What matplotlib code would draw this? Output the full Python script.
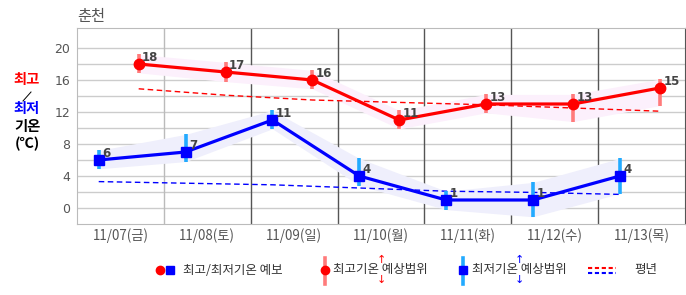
import numpy as np
import matplotlib.pyplot as plt
from matplotlib.lines import Line2D

plt.rcParams['font.family'] = ['Noto Sans CJK KR', 'DejaVu Sans']

# data
days = ['11/07(금)', '11/08(토)', '11/09(일)', '11/10(월)', '11/11(화)', '11/12(수)', '11/13(목)']
tmax = [18, 17, 16, 11, 13, 13, 15]
tmin = [6, 7, 11, 4, 1, 1, 4]
tmax_hi = [19.2, 18.2, 17.2, 12.2, 14.2, 14.2, 16.1]
tmax_lo = [16.9, 15.8, 14.9, 9.9, 11.9, 10.8, 12.8]
tmin_hi = [7.2, 9.2, 12.2, 6.2, 2.1, 3.2, 6.2]
tmin_lo = [4.9, 5.8, 9.9, 2.8, -0.2, -1.1, 1.8]
norm_max = [14.9, 14.1, 13.5, 13.2, 12.9, 12.5, 12.1]
norm_min = [3.3, 3.1, 2.9, 2.5, 2.1, 1.95, 1.7]

RED = '#ff0000'
BLUE = '#0000ff'
RED_RNG = '#ff7b7b'
BLUE_RNG = '#22aaff'

fig = plt.figure(figsize=(6.86, 2.95), dpi=100)
ax = fig.add_axes([77/686, 71/295, 608/686, 196/295])

n = len(days)
xi = np.arange(n)
xmin_pos = xi + 0.25   # morning lows
xmax_pos = xi + 0.71   # afternoon highs

ax.set_xlim(0, n)
ax.set_ylim(-2, 22.5)

# grid
for y in np.arange(0, 21, 2):
    ax.axhline(y, color='#cccccc', lw=1.0, zorder=0)
ax.axvline(1, color='#bbbbbb', lw=1.0, zorder=0)
for x in range(2, n):
    ax.axvline(x, color='#555555', lw=1.0, zorder=0)

for s in ['left', 'bottom', 'top']:
    ax.spines[s].set_color('#bbbbbb')
ax.spines['right'].set_color('#555555')

# bands
ax.fill_between(xmax_pos, tmax_lo, tmax_hi, color='#fcf0fc', lw=0, zorder=1)
ax.fill_between(xmin_pos, tmin_lo, tmin_hi, color='#efeffc', lw=0, zorder=1)

# normals
ax.plot(xmax_pos, norm_max, color=RED, lw=1.0, ls=(0, (4, 2.5)), zorder=2)
ax.plot(xmin_pos, norm_min, color=BLUE, lw=1.0, ls=(0, (4, 2.5)), zorder=2)

# range bars
ax.vlines(xmax_pos, tmax_lo, tmax_hi, color=RED_RNG, lw=2.6, zorder=3)
ax.vlines(xmin_pos, tmin_lo, tmin_hi, color=BLUE_RNG, lw=2.6, zorder=3)

# forecast lines
ax.plot(xmax_pos, tmax, color=RED, lw=2.3, marker='o', ms=7.5, zorder=4)
ax.plot(xmin_pos, tmin, color=BLUE, lw=2.3, marker='s', ms=7, zorder=4)

for x, v in zip(xmax_pos, tmax):
    ax.annotate(str(v), (x, v), xytext=(2.5, 5), textcoords='offset points',
                ha='left', va='center', fontsize=8.5, fontweight='bold',
                color='#444444', family='DejaVu Sans', zorder=5)
for x, v in zip(xmin_pos, tmin):
    ax.annotate(str(v), (x, v), xytext=(2.5, 5), textcoords='offset points',
                ha='left', va='center', fontsize=8.5, fontweight='bold',
                color='#444444', family='DejaVu Sans', zorder=5)

ax.set_xticks(xi + 0.5)
ax.set_xticklabels(days, fontsize=9.6, color='#555555')
ax.set_yticks(np.arange(0, 21, 4))
ax.set_yticklabels([str(v) for v in range(0, 21, 4)], fontsize=9, color='#555555',
                   family='DejaVu Sans')
ax.tick_params(length=0, pad=5)
ax.tick_params(axis='x', pad=3)

# title
fig.text(77/686, 1 - 16/295, '춘천', fontsize=11, color='#555555', ha='left', va='center')

# y label
lx = 27/686
fig.text(lx, 1 - 80/295, '최고', color=RED, fontsize=10.3, fontweight='bold', ha='center', va='center')
fig.add_artist(Line2D([23/686, 31/686], [1 - 101/295, 1 - 92/295], color='black', lw=0.7))
fig.text(lx, 1 - 109/295, '최저', color=BLUE, fontsize=10.3, fontweight='bold', ha='center', va='center')
fig.text(lx, 1 - 127/295, '기온', color='black', fontsize=10.3, fontweight='bold', ha='center', va='center')
fig.text(lx, 1 - 144/295, '(℃)', color='black', fontsize=10.3, fontweight='bold', ha='center', va='center')

# legend (drawn by hand)
ly = 1 - 270/295
def fx(px):
    return px / 686
def fy(py):
    return 1 - py / 295

fig.add_artist(Line2D([fx(160)], [ly], marker='o', color=RED, ms=6, lw=0))
fig.add_artist(Line2D([fx(170)], [ly], marker='s', color=BLUE, ms=5.5, lw=0))
fig.text(fx(183), ly, '최고/최저기온 예보', fontsize=9, color='#333333', ha='left', va='center')

fig.add_artist(Line2D([fx(325), fx(325)], [fy(258), fy(284)], color=RED_RNG, lw=2.6))
fig.add_artist(Line2D([fx(325)], [ly], marker='o', color=RED, ms=6, lw=0))
fig.text(fx(333), ly, '최고기온 예상범위', fontsize=9, color='#333333', ha='left', va='center')
fig.text(fx(381), fy(260), '↑', fontsize=8, color=RED, ha='center', va='center', family='DejaVu Sans')
fig.text(fx(381), fy(280), '↓', fontsize=8, color=RED, ha='center', va='center', family='DejaVu Sans')

fig.add_artist(Line2D([fx(463), fx(463)], [fy(258), fy(284)], color=BLUE_RNG, lw=2.6))
fig.add_artist(Line2D([fx(463)], [ly], marker='s', color=BLUE, ms=5.5, lw=0))
fig.text(fx(472), ly, '최저기온 예상범위', fontsize=9, color='#333333', ha='left', va='center')
fig.text(fx(519), fy(260), '↑', fontsize=8, color=BLUE, ha='center', va='center', family='DejaVu Sans')
fig.text(fx(519), fy(280), '↓', fontsize=8, color=BLUE, ha='center', va='center', family='DejaVu Sans')

fig.add_artist(Line2D([fx(588), fx(616)], [fy(268), fy(268)], color=RED, lw=1.5, ls=(0, (2, 1.3))))
fig.add_artist(Line2D([fx(588), fx(616)], [fy(273), fy(273)], color=BLUE, lw=1.5, ls=(0, (2, 1.3))))
fig.text(fx(634), ly, '평년', fontsize=9, color='#333333', ha='left', va='center')

fig.savefig('out.png', dpi=100)
